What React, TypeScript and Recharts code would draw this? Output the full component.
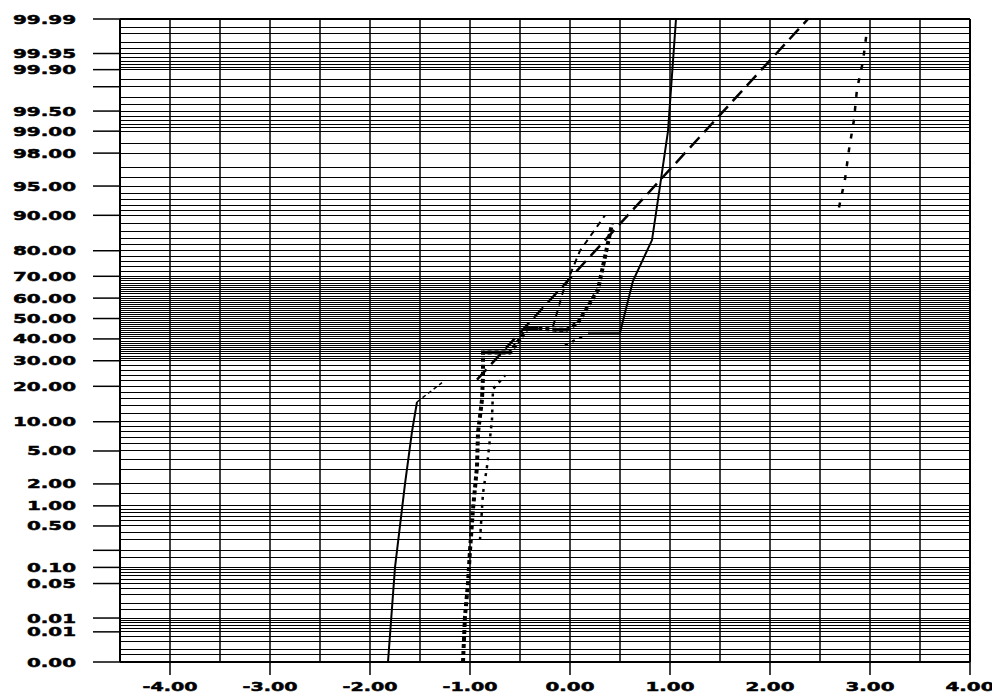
import { LineChart, Line, XAxis, YAxis, ReferenceLine } from 'recharts';

// probability paper: x is the value, y is cumulative percent
const xTicks = [-4, -3, -2, -1, 0, 1, 2, 3, 4];
const xGrid = [-4.5, -4, -3.5, -3, -2.5, -2, -1.5, -1, -0.5, 0, 0.5, 1, 1.5, 2, 2.5, 3, 3.5, 4];

const yTickPct = [0.001, 0.005, 0.01, 0.05, 0.1, 0.2, 0.5, 1, 2, 5, 10, 20, 30, 40, 50, 60, 70, 80, 90, 95, 98, 99, 99.5, 99.8, 99.9, 99.95, 99.99];
const yTickLabels = ['0.00', '0.01', '0.01', '0.05', '0.10', '', '0.50', '1.00', '2.00', '5.00', '10.00', '20.00', '30.00', '40.00', '50.00', '60.00', '70.00', '80.00', '90.00', '95.00', '98.00', '99.00', '99.50', '', '99.90', '99.95', '99.99'];

const yGridPct = [
  0.001, 0.0015, 0.002, 0.003, 0.004, 0.005, 0.006, 0.007, 0.008, 0.009,
  0.01, 0.015, 0.02, 0.03, 0.04, 0.05, 0.06, 0.07, 0.08, 0.09,
  0.1, 0.15, 0.2, 0.3, 0.4, 0.5, 0.6, 0.7, 0.8, 0.9,
  1, 1.5, 2, 3, 4, 5, 6, 7, 8, 9,
  10, 12, 14, 16, 18, 20, 22, 24, 26, 28,
  30, 31, 32, 33, 34, 35, 36, 37, 38, 39, 40, 41, 42, 43, 44, 45, 46, 47, 48, 49,
  50, 51, 52, 53, 54, 55, 56, 57, 58, 59, 60, 61, 62, 63, 64, 65, 66, 67, 68, 69, 70,
  72, 74, 76, 78, 80, 82, 84, 86, 88, 90,
  91, 92, 93, 94, 95, 96, 97, 98, 98.5, 99,
  99.1, 99.2, 99.3, 99.4, 99.5, 99.6, 99.7, 99.8, 99.85, 99.9,
  99.91, 99.92, 99.93, 99.94, 99.95, 99.96, 99.97, 99.98, 99.985, 99.99,
];

// [x, percent]
const solidLow = [[-1.82, 0.001], [-1.75, 0.1], [-1.65, 2], [-1.58, 8], [-1.53, 15]];
const thinLow = [[-1.53, 15], [-1.28, 21.3]];
const solidHigh = [[0.18, 43], [0.5, 43], [0.63, 68], [0.82, 83.5], [0.9, 95], [0.98, 99], [1.06, 99.99]];
const fitLine = [[-0.93, 22.4], [2.38, 99.99]];
const heavyDot = [
  [-1.07, 0.001], [-1.05, 0.011], [-1.02, 0.05], [-1.0, 0.2], [-0.97, 0.9], [-0.93, 3.3],
  [-0.92, 7.8], [-0.88, 15.7], [-0.87, 23.6], [-0.87, 33.7], [-0.6, 33.7], [-0.5, 40],
  [-0.43, 45], [-0.32, 45], [-0.15, 44.5], [-0.03, 44.5], [0.08, 48], [0.28, 64], [0.42, 88],
];
const stepA = [[-0.87, 33.7], [-0.6, 33.7]];
const stepB = [[-0.43, 45], [-0.32, 45]];
const stepC = [[-0.15, 44.5], [-0.03, 44.5]];
const lightDot = [[-0.9, 0.3], [-0.87, 1.5], [-0.83, 3.3], [-0.78, 10.5], [-0.77, 19], [-0.65, 24]];
const lightDot2 = [[-0.05, 37], [0.12, 41]];
const dashThin = [[-0.17, 46], [-0.07, 63], [0.1, 80], [0.35, 90]];
const rightDot = [[2.69, 91.6], [2.75, 95.8], [2.79, 98.2], [2.84, 99.32], [2.87, 99.78], [2.93, 99.93], [2.97, 99.983]];

// inverse normal cdf (Acklam)
function probit(pct: number) {
  const p = pct / 100;
  const a = [-39.69683028665376, 220.9460984245205, -275.9285104469687, 138.357751867269, -30.66479806614716, 2.506628277386484];
  const b = [-54.47609879822406, 161.5858368580409, -155.6989798598866, 66.80131188771972, -13.28068155288572];
  const c = [-0.007784894002430293, -0.3223964580411365, -2.400758277161838, -2.549671348201940, 4.374664141464968, 2.938163982698783];
  const d = [0.007784695709041462, 0.3224671290700398, 2.445134137142996, 3.754408602033230];
  const plow = 0.02425;
  if (p < plow) {
    const q = Math.sqrt(-2 * Math.log(p));
    return (((((c[0] * q + c[1]) * q + c[2]) * q + c[3]) * q + c[4]) * q + c[5]) / ((((d[0] * q + d[1]) * q + d[2]) * q + d[3]) * q + 1);
  }
  if (p <= 1 - plow) {
    const q = p - 0.5;
    const r = q * q;
    return (((((a[0] * r + a[1]) * r + a[2]) * r + a[3]) * r + a[4]) * r + a[5]) * q / (((((b[0] * r + b[1]) * r + b[2]) * r + b[3]) * r + b[4]) * r + 1);
  }
  const q = Math.sqrt(-2 * Math.log(1 - p));
  return -(((((c[0] * q + c[1]) * q + c[2]) * q + c[3]) * q + c[4]) * q + c[5]) / ((((d[0] * q + d[1]) * q + d[2]) * q + d[3]) * q + 1);
}

const toData = (pts: number[][]) => pts.map(([x, p]) => ({ x, z: probit(p) }));

const yTicks = yTickPct.map(probit);
const yMin = probit(0.001);
const yMax = probit(99.99);

const font = { fontFamily: 'DejaVu Sans', fontWeight: 'bold', fontSize: 13, fill: '#000', stroke: '#000', strokeWidth: 0.5 };

// wide, heavy bitmap-like labels: stretch to the reference width
const labelWidth = (s: string) => {
  let w = 0;
  for (const ch of s) w += ch === '.' ? 9 : ch === '-' ? 6 : 14;
  return w - 2;
};

const YTick = ({ x, y, payload }: any) => {
  const i = yTicks.findIndex(t => Math.abs(t - payload.value) < 1e-6);
  const s = i >= 0 ? yTickLabels[i] : '';
  if (!s) return null;
  return (
    <text x={x} y={y} textAnchor="end" dominantBaseline="central" textLength={labelWidth(s)} lengthAdjust="spacingAndGlyphs" {...font}>
      {s}
    </text>
  );
};

const XTick = ({ x, y, payload }: any) => {
  const s = payload.value.toFixed(2);
  return (
    <text x={x} y={y} textAnchor="middle" dy="0.71em" textLength={labelWidth(s)} lengthAdjust="spacingAndGlyphs" {...font}>
      {s}
    </text>
  );
};

const series = [
  { data: solidLow, width: 2, dash: undefined },
  { data: thinLow, width: 1.5, dash: '4 3' },
  { data: solidHigh, width: 2, dash: undefined },
  { data: fitLine, width: 2.5, dash: '14 7' },
  { data: heavyDot, width: 4, dash: '4 3' },
  { data: stepA, width: 3.5, dash: undefined },
  { data: stepB, width: 3.5, dash: undefined },
  { data: stepC, width: 3.5, dash: undefined },
  { data: lightDot, width: 2.5, dash: '3 5' },
  { data: lightDot2, width: 2.5, dash: '3 5' },
  { data: dashThin, width: 2, dash: '6 5' },
  { data: rightDot, width: 2.5, dash: '5 9' },
];

export default function App() {
  return (
    <div style={{ position: 'absolute', left: 0, top: 0, background: '#fff' }}>
      <LineChart width={992} height={695} margin={{ top: 19, right: 22, left: 0, bottom: 0 }}>
        <XAxis
          type="number"
          dataKey="x"
          domain={[-4.5, 4]}
          ticks={xTicks}
          interval={0}
          allowDataOverflow
          height={33}
          tickSize={13}
          tickMargin={7}
          tick={<XTick />}
          axisLine={{ stroke: '#000', strokeWidth: 2 }}
          tickLine={{ stroke: '#000', strokeWidth: 1.5 }}
        />
        <YAxis
          type="number"
          dataKey="z"
          domain={[yMin, yMax]}
          ticks={yTicks}
          interval={0}
          allowDataOverflow
          width={120}
          tickSize={27}
          tickMargin={17}
          tick={<YTick />}
          axisLine={{ stroke: '#000', strokeWidth: 2 }}
          tickLine={{ stroke: '#000', strokeWidth: 1.5 }}
        />
        {yGridPct.map(p => (
          <ReferenceLine key={'h' + p} y={probit(p)} stroke="#000" strokeWidth={1} shapeRendering="crispEdges" />
        ))}
        {xGrid.map(v => (
          <ReferenceLine key={'v' + v} x={v} stroke="#000" strokeWidth={1.5} />
        ))}
        <ReferenceLine y={yMax} stroke="#000" strokeWidth={2} />
        <ReferenceLine x={4} stroke="#000" strokeWidth={2} />
        {series.map((s, i) => (
          <Line
            key={i}
            data={toData(s.data)}
            dataKey="z"
            type="linear"
            stroke="#000"
            strokeWidth={s.width}
            strokeDasharray={s.dash}
            dot={false}
            activeDot={false}
            isAnimationActive={false}
          />
        ))}
      </LineChart>
    </div>
  );
}
